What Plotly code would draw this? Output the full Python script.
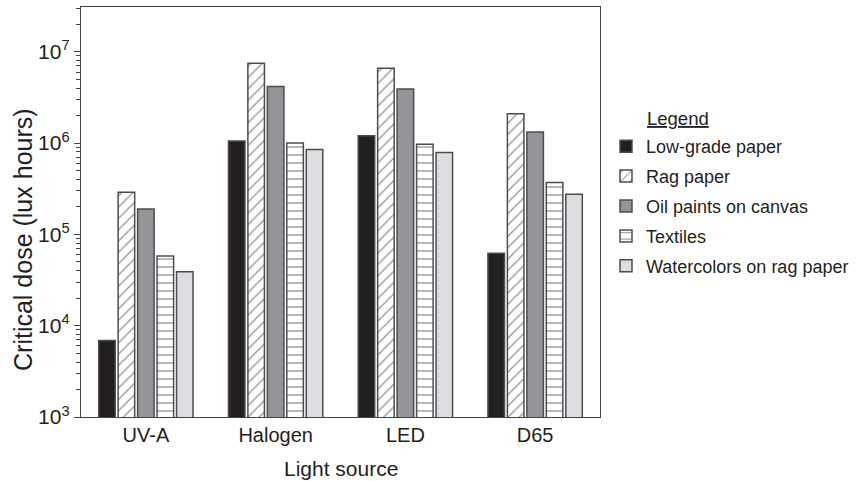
import plotly.graph_objects as go

categories = ["UV-A", "Halogen", "LED", "D65"]
series_names = ["Low-grade paper", "Rag paper", "Oil paints on canvas", "Textiles", "Watercolors on rag paper"]
low_grade = [6.9e3, 1.05e6, 1.2e6, 6.2e4]
rag_paper = [2.9e5, 7.5e6, 6.6e6, 2.1e6]
oil_paints = [1.9e5, 4.15e6, 3.9e6, 1.32e6]
textiles = [5.8e4, 1.0e6, 9.7e5, 3.7e5]
watercolors = [3.9e4, 8.5e5, 7.9e5, 2.75e5]
ytick_vals = [1e3, 1e4, 1e5, 1e6, 1e7]
ytick_text = ["10<sup>3</sup>", "10<sup>4</sup>", "10<sup>5</sup>", "10<sup>6</sup>", "10<sup>7</sup>"]

FONT = "Liberation Sans, Arial, sans-serif"
EDGE = "#4d4d4d"
INK = "#231f20"

styles = [
    dict(color=INK),
    dict(color="white", pattern=dict(shape="/", size=8, solidity=0.15, fgcolor=INK, bgcolor="white", fillmode="overlay")),
    dict(color="#939598"),
    dict(color="white", pattern=dict(shape="-", size=8, solidity=0.16, fgcolor=INK, bgcolor="white", fillmode="overlay")),
    dict(color="#dcdde0"),
]
values = [low_grade, rag_paper, oil_paints, textiles, watercolors]

L, R, T, B = 81, 600, 7, 417
W = R - L
H = B - T

fig = go.Figure()
for name, vals, st in zip(series_names, values, styles):
    marker = dict(line=dict(color=EDGE, width=1.5), **st)
    fig.add_trace(go.Bar(x=categories, y=vals, name=name, marker=marker, legendgroup=name))

fig.update_layout(
    width=857, height=481,
    margin=dict(l=L, r=857 - R, t=T, b=481 - B, autoexpand=False),
    paper_bgcolor="white", plot_bgcolor="white",
    barmode="group", bargap=0.25, bargroupgap=0.15,
    font=dict(family=FONT, size=20, color=INK),
    showlegend=True,
    legend=dict(x=(606 - L) / W, xanchor="left", y=(B - 128) / H, yanchor="top",
                font=dict(size=18, family=FONT, color=INK),
                tracegroupgap=3.5, bgcolor="rgba(0,0,0,0)"),
    xaxis=dict(showline=True, linecolor="#444444", linewidth=1.3, mirror=True,
               ticks="", showgrid=False, tickfont=dict(size=20), automargin=False),
    yaxis=dict(type="log", range=[3, 7.49], showline=True, linecolor="#444444", linewidth=1.3,
               mirror=True, ticks="outside", ticklen=6, tickcolor="#444444",
               tickvals=ytick_vals, ticktext=ytick_text, showgrid=False,
               tickfont=dict(size=21), automargin=False,
               minor=dict(ticks="outside", ticklen=4, tickcolor="#444444",
                          tickvals=[k * 10 ** e for e in range(3, 8) for k in range(2, 10)],
                          showgrid=False)),
    annotations=[
        dict(text="Critical dose (lux hours)", textangle=-90, xref="paper", yref="paper",
             x=(23 - L) / W, y=(B - 240) / H, xanchor="center", yanchor="middle", showarrow=False,
             font=dict(size=25, family=FONT, color=INK)),
        dict(text="Light source", xref="paper", yref="paper", x=0.5, y=(B - 468) / H,
             xanchor="center", yanchor="middle", showarrow=False,
             font=dict(size=21, family=FONT, color=INK)),
        dict(text="<u>Legend</u>", xref="paper", yref="paper", x=(645 - L) / W, y=(B - 118) / H,
             xanchor="left", yanchor="middle", showarrow=False,
             font=dict(size=18.5, family=FONT, color=INK)),
    ],
)

fig.write_html("out.html", config={"displayModeBar": False},
               post_script="document.body.style.margin='0';")
